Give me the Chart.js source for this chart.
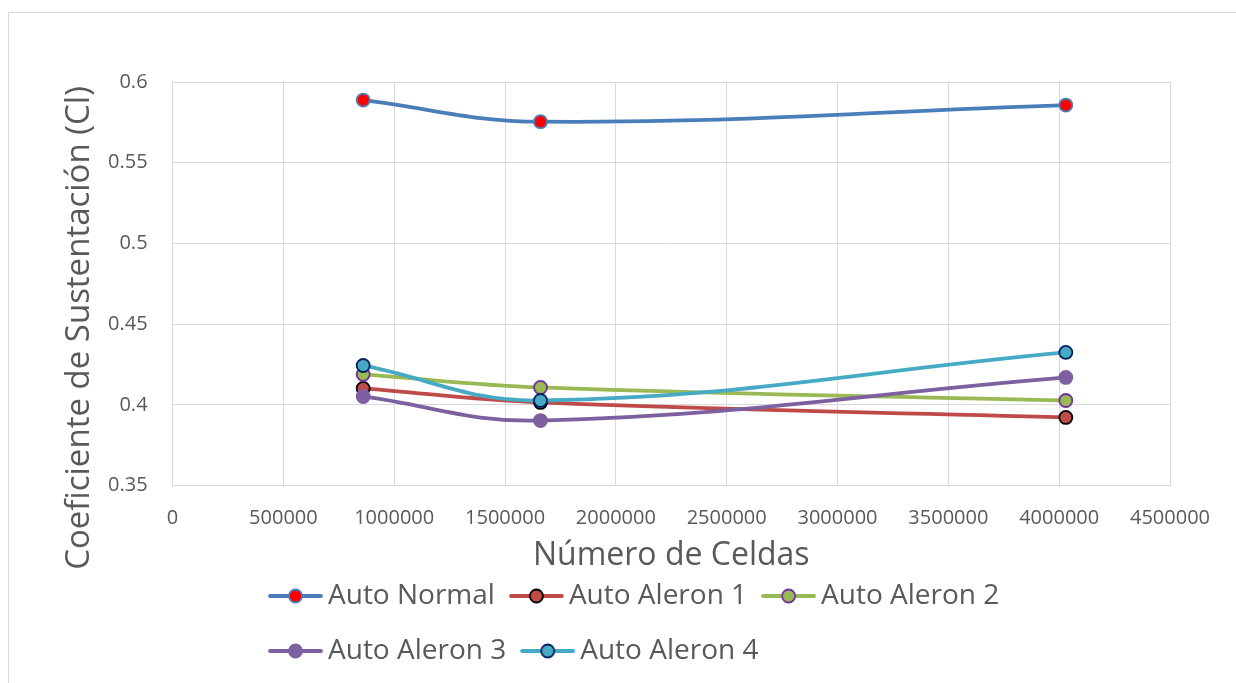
<!DOCTYPE html>
<html>
<head>
<meta charset="utf-8">
<script src="https://cdn.jsdelivr.net/npm/chart.js@4"></script>
<style>
  html, body { margin: 0; padding: 0; background: #fff; }
  #wrap { width: 1236px; height: 683px; position: relative; }
</style>
</head>
<body>
<div id="wrap"><canvas id="lineChart"></canvas></div>
<script>
// valeurs
var celdas = [860000, 1660000, 4030000];
var autoNormal = [0.5888, 0.5754, 0.5857];
var autoAleron1 = [0.4102, 0.4015, 0.3922];
var autoAleron2 = [0.4189, 0.4108, 0.4027];
var autoAleron3 = [0.4052, 0.3903, 0.4170];
var autoAleron4 = [0.4244, 0.4027, 0.4325];
var noms = ["Auto Normal", "Auto Aleron 1", "Auto Aleron 2", "Auto Aleron 3", "Auto Aleron 4"];
var xTicks = [0, 500000, 1000000, 1500000, 2000000, 2500000, 3000000, 3500000, 4000000, 4500000];
var yTicks = [0.35, 0.4, 0.45, 0.5, 0.55, 0.6];
var titreX = 'Número de Celdas';
var titreY = 'Coeficiente de Sustentación (Cl)';

var couleurs = ['#4a7ebb', '#be4b48', '#98b954', '#7d60a0', '#46aac5'];
var remplis = ['#ff0000', '#be4b48', '#98b954', '#7d60a0', '#46aac5'];
var bords = ['#4a7ebb', '#000000', '#7030a0', '#7d60a0', '#002060'];

var texte = '#595959';
var grille = '#d9d9d9';
var police = '"Open Sans", "Noto Sans", sans-serif';

function points(valeurs) {
    var res = [];
    for (var i = 0; i < celdas.length; i++) {
        res.push({ x: celdas[i], y: valeurs[i] });
    }
    return res;
}

// petite icone ligne + rond pour la legende (qq px vides a droite)
function iconeLegende(i) {
    var c = document.createElement('canvas');
    c.width = 59;
    c.height = 20;
    var ctx = c.getContext('2d');
    ctx.strokeStyle = couleurs[i];
    ctx.lineWidth = 3.8;
    ctx.lineCap = 'round';
    ctx.beginPath();
    ctx.moveTo(2, 10);
    ctx.lineTo(53, 10);
    ctx.stroke();
    ctx.beginPath();
    ctx.arc(27.5, 10, 6.5, 0, Math.PI * 2);
    ctx.fillStyle = remplis[i];
    ctx.fill();
    ctx.lineWidth = 1.8;
    ctx.strokeStyle = bords[i];
    ctx.stroke();
    return c;
}

function TraitGraph(i, valeurs) {
    return {
        label: noms[i],
        data: points(valeurs),
        borderColor: couleurs[i],
        backgroundColor: couleurs[i],
        borderWidth: 3.8,
        tension: 0.4,
        pointRadius: 6.5,
        pointHoverRadius: 6.5,
        pointBackgroundColor: remplis[i],
        pointBorderColor: bords[i],
        pointBorderWidth: 1.8,
        order: 5 - i
    };
}

var series = [autoNormal, autoAleron1, autoAleron2, autoAleron3, autoAleron4];
var datasets = [];
for (var i = 0; i < series.length; i++) {
    datasets.push(TraitGraph(i, series[i]));
}

// cadre gris autour du graphique + titre vertical (decale vers le bas comme dans Excel)
var cadre = {
    id: 'cadre',
    beforeDraw: function (chart) {
        var ctx = chart.ctx;
        ctx.save();
        ctx.strokeStyle = grille;
        ctx.lineWidth = 1;
        ctx.strokeRect(8.5, 12.5, 1250, 700);
        ctx.restore();
    },
    afterDraw: function (chart) {
        var ctx = chart.ctx;
        ctx.save();
        ctx.translate(80, 328);
        ctx.rotate(-Math.PI / 2);
        ctx.fillStyle = texte;
        ctx.font = '33px ' + police;
        ctx.textAlign = 'center';
        ctx.textBaseline = 'middle';
        ctx.fillText(titreY, 0, 0);
        ctx.restore();
    }
};

// legende alignee a gauche comme dans Excel, 3 elements puis 2
var legendeGauche = {
    id: 'legendeGauche',
    afterLayout: function (chart) {
        var lg = chart.legend;
        lg.left = 254;
        lg.right = 1150;
    }
};

new Chart(document.getElementById('lineChart').getContext('2d'), {
    type: 'line',
    data: { datasets: datasets },
    plugins: [cadre, legendeGauche],
    options: {
        responsive: true,
        maintainAspectRatio: false,
        animation: false,
        layout: { padding: { left: 83, right: 66, top: 82, bottom: 8 } },
        plugins: {
            tooltip: { enabled: false },
            legend: {
                position: 'bottom',
                align: 'start',
                labels: {
                    usePointStyle: true,
                    pointStyleWidth: 33,
                    padding: 27,
                    color: texte,
                    font: { family: police, size: 28, lineHeight: 1 },
                    generateLabels: function (chart) {
                        return chart.data.datasets.map(function (ds, i) {
                            return {
                                text: ds.label,
                                pointStyle: iconeLegende(i),
                                fillStyle: couleurs[i],
                                strokeStyle: couleurs[i],
                                lineWidth: 0,
                                fontColor: texte,
                                datasetIndex: i,
                                hidden: false
                            };
                        });
                    }
                }
            }
        },
        scales: {
            x: {
                type: 'linear',
                min: 0,
                max: 4500000,
                afterBuildTicks: function (axis) {
                    axis.ticks = xTicks.map(function (v) { return { value: v }; });
                },
                grid: { color: grille, drawTicks: false },
                border: { color: grille },
                ticks: {
                    color: texte,
                    padding: 21,
                    maxRotation: 0,
                    autoSkip: false,
                    font: { family: police, size: 20 },
                    callback: function (v) { return String(v); }
                },
                title: {
                    display: true,
                    text: titreX,
                    color: texte,
                    font: { family: police, size: 32 },
                    padding: { top: -15, bottom: -20 }
                }
            },
            y: {
                min: 0.35,
                max: 0.6,
                afterBuildTicks: function (axis) {
                    axis.ticks = yTicks.map(function (v) { return { value: v }; });
                },
                grid: { color: grille, drawTicks: false },
                border: { color: grille },
                ticks: {
                    color: texte,
                    padding: 25,
                    font: { family: police, size: 20 },
                    callback: function (v) { return String(+v.toFixed(2)); }
                }
            }
        }
    }
});
</script>
</body>
</html>
